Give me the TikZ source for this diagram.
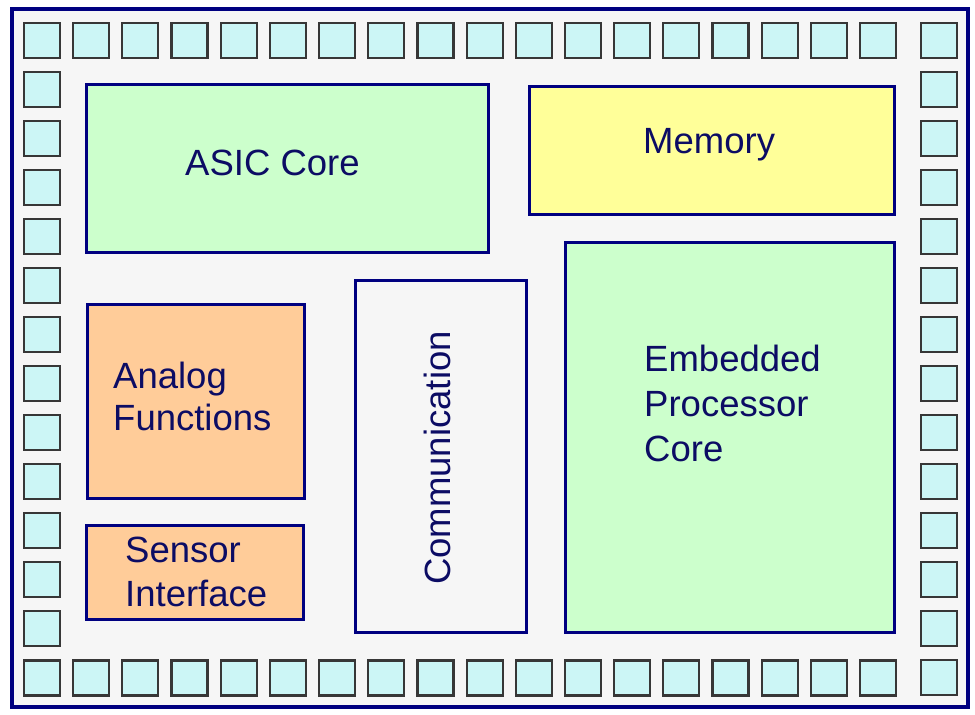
\documentclass[tikz,border=0pt]{standalone}
\usepackage{fontspec}
\setmainfont{Liberation Sans}
\usepackage{tikz}
\definecolor{chipblue}{RGB}{0,0,128}
\definecolor{inkblue}{RGB}{12,12,100}
\definecolor{padcyan}{RGB}{204,246,246}
\definecolor{padgray}{RGB}{55,55,55}
\definecolor{coregreen}{RGB}{204,255,204}
\definecolor{memyellow}{RGB}{255,255,153}
\definecolor{anaorange}{RGB}{255,204,153}
\definecolor{diebg}{RGB}{246,246,246}

\begin{document}
\begin{tikzpicture}[
  block/.style={draw=chipblue,line width=3.6bp,inner sep=0pt,rectangle},
  pad/.style={draw=padgray,line width=2.2bp,fill=padcyan,minimum width=36bp,minimum height=35bp,inner sep=0pt},
  txt/.style={text=inkblue,inner sep=0pt,font=\fontsize{36.5bp}{45bp}\selectfont}
]
\useasboundingbox (0bp,0bp) rectangle (975bp,-715bp);

\node (die) at (490bp,-358bp)[block,line width=4bp,fill=diebg,minimum width=956bp,minimum height=698bp] {};

% pads
\foreach \k [evaluate=\k as \x using 42+49.18*\k] in {0,...,17}{
  \node (t\k) at (\x bp,-40.5bp)[pad] {};
  \node (b\k) at (\x bp,-678bp)[pad] {};
}
\foreach \k [evaluate=\k as \y using 40.5+49*\k] in {1,...,12}{
  \node (l\k) at (42bp,-\y bp)[pad] {};
}
\foreach \k [evaluate=\k as \y using 40.5+49*\k] in {0,...,13}{
  \node (r\k) at (939bp,-\y bp)[pad] {};
}

% blocks
\node (asic) at (287.5bp,-168.5bp)[block,fill=coregreen,minimum width=402bp,minimum height=168bp] {};
\node (mem) at (712bp,-150.5bp)[block,fill=memyellow,minimum width=365bp,minimum height=128bp] {};
\node (emb) at (730bp,-437.5bp)[block,fill=coregreen,minimum width=329bp,minimum height=390bp] {};
\node (com) at (441bp,-456.5bp)[block,fill=diebg,minimum width=171bp,minimum height=352bp] {};
\node (ana) at (196bp,-401.5bp)[block,fill=anaorange,minimum width=217bp,minimum height=194bp] {};
\node (sens) at (195bp,-572.5bp)[block,fill=anaorange,minimum width=217bp,minimum height=94bp] {};

% labels
\node (asictext) at (185bp,-175bp)[txt,anchor=base west] {ASIC Core};
\node (memtext) at (643bp,-153bp)[txt,anchor=base west] {Memory};
\node (embtext) at (644bp,-345bp)[txt,anchor=north west,align=left] {Embedded\\Processor\\Core};
\node (comtext) at (450bp,-458bp)[txt,rotate=90,anchor=base] {Communication};
\node (anatext) at (113bp,-362bp)[txt,anchor=north west,align=left,font=\fontsize{36.5bp}{42bp}\selectfont] {Analog\\Functions};
\node (senstext) at (125bp,-537bp)[txt,anchor=north west,align=left,font=\fontsize{36.5bp}{44bp}\selectfont] {Sensor\\Interface};
\end{tikzpicture}
\end{document}
